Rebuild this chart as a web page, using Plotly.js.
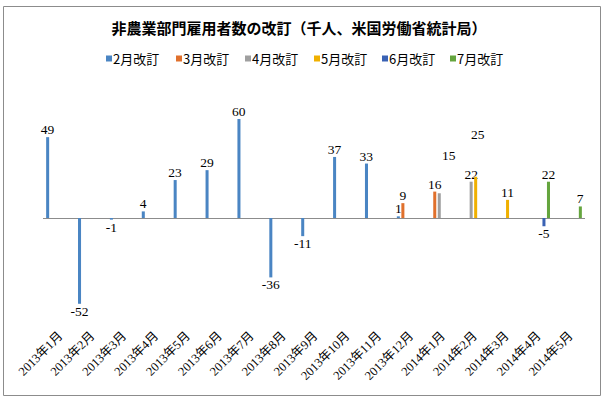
<!DOCTYPE html>
<html><head><meta charset="utf-8">
<script src="https://cdn.plot.ly/plotly-3.0.1.min.js"></script>
<style>html,body{margin:0;padding:0;background:#fff}#chart{width:606px;height:399px}</style>
</head><body><div id="chart"></div>
<script>
const categories = ['2013年1月','2013年2月','2013年3月','2013年4月','2013年5月','2013年6月','2013年7月','2013年8月','2013年9月','2013年10月','2013年11月','2013年12月','2014年1月','2014年2月','2014年3月','2014年4月','2014年5月'];
const seriesNames = ['2月改訂','3月改訂','4月改訂','5月改訂','6月改訂','7月改訂'];
const rev_feb = [49,-52,-1,4,23,29,60,-36,-11,37,33,1,null,null,null,null,null];
const rev_mar = [null,null,null,null,null,null,null,null,null,null,null,9,16,null,null,null,null];
const rev_apr = [null,null,null,null,null,null,null,null,null,null,null,null,15,22,null,null,null];
const rev_may = [null,null,null,null,null,null,null,null,null,null,null,null,null,25,11,null,null];
const rev_jun = [null,null,null,null,null,null,null,null,null,null,null,null,null,null,null,-5,null];
const rev_jul = [null,null,null,null,null,null,null,null,null,null,null,null,null,null,null,22,7];
const colors = ['#4a85c3','#e0702c','#9f9f9f','#f0b000','#3a62b4','#65a53e'];
const allSeries = [rev_feb,rev_mar,rev_apr,rev_may,rev_jun,rev_jul];
// labels moved off the bar in the original: [series index, category index, dx, dy]
const movedLabels = [[2,12,7,-38],[3,13,5,-42]];
// legend entry text start (px) in the original
const legendTextX = [113,183,252,321,389,457];

const serifFont = "'Liberation Serif', 'Noto Sans CJK JP', serif";
const sansFont = "'Noto Sans CJK JP', sans-serif";
const traces = allSeries.map((vals,i)=>({
  type:'bar', name:seriesNames[i], x:categories, y:vals,
  marker:{color:colors[i]}, showlegend:false,
  text: vals.map((v,j)=> (v===null || movedLabels.some(m=>m[0]===i&&m[1]===j)) ? '' : String(v)),
  textposition:'outside', constraintext:'none', cliponaxis:false,
  textfont:{family:serifFont,size:13.5,color:'#000'},
  hoverinfo:'skip'
}));

const L=43, R=21, T=86, B=82, W=606, H=399;
const pw=W-L-R, ph=H-T-B;
const px=v=>(v-L)/pw, py=v=>(H-B-v)/ph;

const annotations = movedLabels.map(m=>({
  x:categories[m[1]], y:allSeries[m[0]][m[1]], xref:'x', yref:'y',
  text:String(allSeries[m[0]][m[1]]), showarrow:false,
  xshift:m[2], yshift:-m[3], font:{family:serifFont,size:13.5,color:'#000'}
}));
const shapes = [{type:'rect', xref:'paper', yref:'paper', x0:px(3.5), x1:px(600.5), y0:py(395.5), y1:py(6.5),
    line:{color:'#8c8c8c',width:1}, fillcolor:'rgba(0,0,0,0)', layer:'below'}];
// legend (series names + colours)
seriesNames.forEach((name,i)=>{
  const tx = legendTextX[i];
  shapes.push({type:'rect', xref:'paper', yref:'paper', x0:px(tx-7), x1:px(tx-1), y0:py(61.5), y1:py(55.5),
    line:{width:0}, fillcolor:colors[i]});
  annotations.push({x:px(tx-2), y:py(58.5), xref:'paper', yref:'paper', xanchor:'left', yanchor:'middle',
    text:name, showarrow:false, font:{family:sansFont,size:13,color:'#000'}});
});

const layout = {
  width:W, height:H,
  margin:{l:L,r:R,t:T,b:B,pad:0},
  paper_bgcolor:'#fff', plot_bgcolor:'#fff',
  title:{text:'非農業部門雇用者数の改訂（千人、米国労働省統計局）', x:299/W, xanchor:'center', y:1-29/H, yanchor:'middle',
    font:{family:sansFont, size:15, color:'#000', weight:'bold'}},
  barmode:'group', bargap:0.15, bargroupgap:0.33,
  showlegend:false,
  xaxis:{type:'category', tickangle:-45, showline:false, ticks:'', showgrid:false, ticklabelstandoff:8,
    tickfont:{family:serifFont,size:12.5,color:'#000'}, automargin:false},
  yaxis:{range:[-60,80], showticklabels:false, showgrid:false, showline:false, ticks:'',
    zeroline:true, zerolinecolor:'#8c8c8c', zerolinewidth:1, automargin:false},
  shapes:shapes,
  annotations:annotations
};
Plotly.newPlot('chart', traces, layout, {staticPlot:true, displayModeBar:false});
</script></body></html>
